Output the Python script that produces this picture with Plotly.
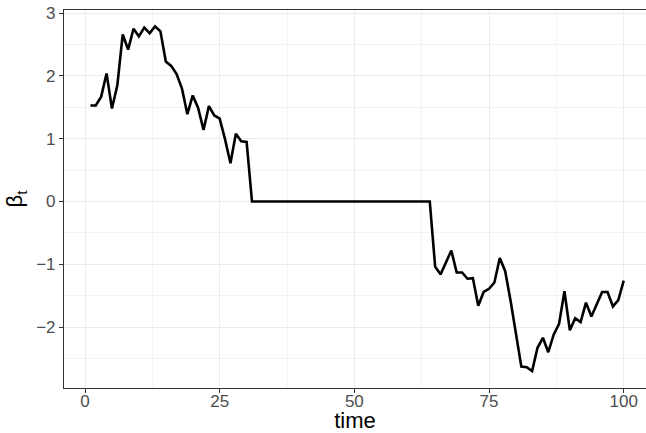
import plotly.graph_objects as go

time = list(range(1, 101))
beta_head = [1.53, 1.53, 1.67, 2.04, 1.48, 1.85, 2.66, 2.42, 2.75, 2.63,
             2.77, 2.68, 2.79, 2.71, 2.23, 2.16, 2.03, 1.80, 1.39, 1.69,
             1.49, 1.14, 1.52, 1.37, 1.32, 0.99, 0.61, 1.08, 0.96, 0.95]
beta_zero = [0.0] * 34  # t = 31 .. 64
beta_tail = [-1.04, -1.16, -0.97, -0.78, -1.13, -1.13, -1.23, -1.22, -1.66, -1.44,
             -1.39, -1.29, -0.90, -1.11, -1.58, -2.08, -2.63, -2.64, -2.70, -2.33,
             -2.17, -2.40, -2.12, -1.95, -1.43, -2.05, -1.86, -1.92, -1.61, -1.83,
             -1.62, -1.44, -1.44, -1.67, -1.57, -1.26]
beta = beta_head + beta_zero + beta_tail

x_ticks = [0, 25, 50, 75, 100]
y_ticks = [-2, -1, 0, 1, 2, 3]

FONT = "Liberation Sans, Arial, sans-serif"

fig = go.Figure()
fig.add_trace(go.Scatter(x=time, y=beta, mode="lines",
                         line=dict(color="black", width=2.6),
                         hoverinfo="skip", showlegend=False))

fig.update_layout(
    width=646, height=433,
    margin=dict(l=64, r=0, t=10, b=45, autoexpand=False),
    paper_bgcolor="white", plot_bgcolor="white",
    font=dict(family=FONT, color="#4D4D4D", size=16),
)
fig.update_xaxes(
    range=[-3.90, 104.14], tickvals=x_ticks, ticktext=[str(v) for v in x_ticks],
    showgrid=True, gridcolor="#EBEBEB", gridwidth=1.1,
    minor=dict(tickvals=[12.5, 37.5, 62.5, 87.5], showgrid=True,
               gridcolor="#F3F3F3", gridwidth=0.6),
    showline=True, linecolor="#333333", linewidth=1.1, mirror=True,
    ticks="outside", ticklen=4, tickcolor="#333333", tickwidth=1.1,
    ticklabelstandoff=-6,
    zeroline=False, tickfont=dict(size=17, color="#4D4D4D"),
    title=dict(text="time", font=dict(size=22, color="black"), standoff=5),
    automargin=False,
)
fig.update_yaxes(
    range=[-2.97, 3.05], tickvals=y_ticks,
    showgrid=True, gridcolor="#EBEBEB", gridwidth=1.1,
    minor=dict(tickvals=[-2.5, -1.5, -0.5, 0.5, 1.5, 2.5], showgrid=True,
               gridcolor="#F3F3F3", gridwidth=0.6),
    showline=True, linecolor="#333333", linewidth=1.1,
    ticks="outside", ticklen=4, tickcolor="#333333", tickwidth=1.1,
    ticklabelstandoff=0,
    zeroline=False, tickfont=dict(size=17, color="#4D4D4D"),
    title=dict(text="β<sub>t</sub>", font=dict(size=22, color="black"), standoff=7),
    automargin=False,
)

fig.write_html("out.html", config={"displayModeBar": False},
               post_script="document.body.style.margin='0';document.body.style.overflow='hidden';")
